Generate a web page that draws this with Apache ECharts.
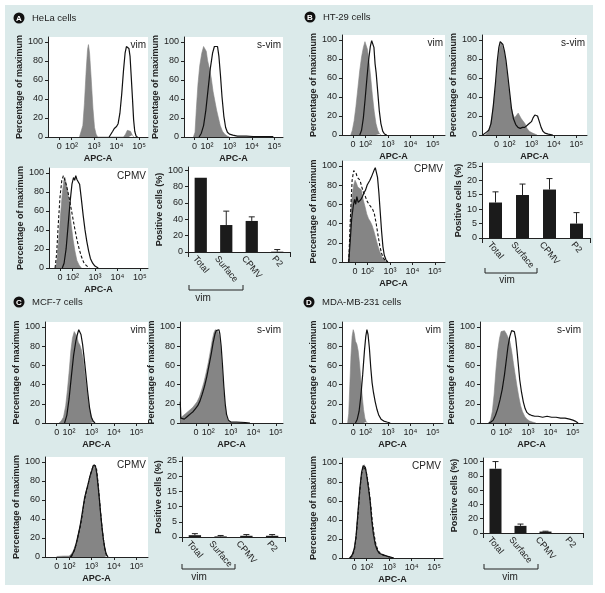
<!DOCTYPE html>
<html><head><meta charset="utf-8">
<script src="https://cdn.jsdelivr.net/npm/echarts@6/dist/echarts.min.js"></script>
<style>html,body{margin:0;padding:0;background:#fff;}#c{width:605px;height:593px;}</style>
</head><body><div id="c"></div>
<script>
// ---------------- DATA ----------------
const panelLetters = ['A', 'B', 'C', 'D'];
const panelNames = ['HeLa cells', 'HT-29 cells', 'MCF-7 cells', 'MDA-MB-231 cells'];
const histTitles = ['vim', 's-vim', 'CPMV'];
const apcTickPos = [0, 0.55, 1.55, 2.55, 3.55];          // display (biexponential) units
const apcTickLabels = ['0', '10²', '10³', '10⁴', '10⁵'];
const pctTicks = [0, 20, 40, 60, 80, 100];
const barCategories = ['Total', 'Surface', 'CPMV', 'P2'];
const groupLabel = 'vim';

// histograms: [APC-A display position, % of maximum]
const helaVimIso = [[0.9,0],[0.97,2],[1.05,12],[1.12,35],[1.2,70],[1.26,92],[1.3,97],[1.35,88],[1.42,62],[1.5,30],[1.57,10],[1.64,3],[1.71,0],[2.86,0],[2.95,3],[3.03,7],[3.09,8],[3.17,6],[3.25,2],[3.32,0]];
const helaVimStain = [[2.22,0],[2.3,2],[2.38,6],[2.45,9],[2.55,11],[2.62,14],[2.7,25],[2.78,45],[2.86,70],[2.93,88],[2.99,95],[3.05,97],[3.1,93],[3.15,85],[3.2,65],[3.26,40],[3.31,18],[3.36,6],[3.42,1],[3.48,0]];
const helaSvimIso = [[-0.05,0],[0.02,5],[0.08,30],[0.15,55],[0.23,75],[0.32,88],[0.4,95],[0.46,97],[0.52,90],[0.58,80],[0.66,72],[0.74,62],[0.82,48],[0.9,38],[0.98,28],[1.06,20],[1.14,12],[1.24,6],[1.34,3],[1.45,1],[1.55,0]];
const helaSvimStain = [[0.2,0],[0.3,4],[0.4,12],[0.5,28],[0.6,50],[0.7,72],[0.8,88],[0.88,95],[0.96,97],[1.02,95],[1.08,85],[1.15,65],[1.22,42],[1.3,22],[1.38,10],[1.46,5],[1.55,3],[1.7,2],[1.9,1],[2.3,1],[2.6,0.5],[3.0,0.5],[3.05,1.2],[3.1,0.5],[3.5,0.3]];
const helaCpmvIso = [[-0.2,0],[-0.14,8],[-0.06,30],[0.02,55],[0.1,78],[0.17,92],[0.22,95],[0.28,88],[0.35,80],[0.42,65],[0.5,45],[0.58,30],[0.66,18],[0.75,8],[0.85,3],[0.95,0]];
const helaCpmvCtrl = [[-0.22,0],[-0.15,15],[-0.08,45],[0.0,75],[0.08,92],[0.15,97],[0.2,95],[0.27,88],[0.35,80],[0.45,68],[0.55,55],[0.65,42],[0.75,30],[0.85,20],[0.95,12],[1.05,6],[1.15,3],[1.3,0]];
const helaCpmvStain = [[0.1,0],[0.18,5],[0.27,20],[0.36,45],[0.45,70],[0.53,88],[0.6,95],[0.65,92],[0.7,97],[0.75,93],[0.8,95],[0.87,88],[0.95,72],[1.03,55],[1.11,40],[1.19,28],[1.27,18],[1.35,10],[1.45,5],[1.55,2],[1.7,0]];

const ht29VimIso = [[-0.1,0],[-0.03,5],[0.05,15],[0.13,30],[0.22,50],[0.3,68],[0.38,82],[0.46,92],[0.53,98],[0.58,97],[0.64,90],[0.7,80],[0.78,62],[0.86,42],[0.94,25],[1.02,12],[1.1,5],[1.18,1],[1.25,0]];
const ht29VimStain = [[0.3,0],[0.38,5],[0.46,18],[0.54,38],[0.62,60],[0.7,80],[0.77,93],[0.83,99],[0.88,97],[0.93,92],[0.98,75],[1.03,65],[1.1,45],[1.17,25],[1.24,12],[1.32,4],[1.4,1],[1.5,0]];
const ht29SvimIso = [[-0.5,0],[-0.4,3],[-0.3,8],[-0.2,20],[-0.1,40],[0.0,62],[0.07,80],[0.14,92],[0.2,97],[0.26,95],[0.33,88],[0.4,78],[0.48,62],[0.56,45],[0.64,30],[0.72,22],[0.8,18],[0.88,20],[0.96,23],[1.03,20],[1.1,17],[1.18,18],[1.26,12],[1.35,7],[1.45,4],[1.6,2],[1.8,0]];
const ht29SvimStain = [[-0.62,0],[-0.55,2],[-0.45,3],[-0.35,5],[-0.25,12],[-0.15,30],[-0.05,55],[0.03,78],[0.1,92],[0.16,98],[0.22,100],[0.28,95],[0.35,88],[0.42,78],[0.5,62],[0.58,45],[0.66,28],[0.75,17],[0.85,11],[0.95,8],[1.05,7],[1.15,8],[1.25,8],[1.35,10],[1.45,12],[1.55,14],[1.62,18],[1.7,21],[1.76,23],[1.82,20],[1.9,14],[1.98,8],[2.06,4],[2.15,2],[2.3,1],[2.5,0]];
const ht29CpmvIso = [[-0.3,0],[-0.24,20],[-0.18,55],[-0.12,70],[-0.06,80],[0.0,85],[0.06,82],[0.12,78],[0.2,80],[0.28,75],[0.36,65],[0.44,58],[0.52,50],[0.6,45],[0.68,42],[0.76,38],[0.84,32],[0.92,25],[1.0,18],[1.08,12],[1.16,7],[1.24,3],[1.32,1],[1.4,0]];
const ht29CpmvCtrl = [[-0.28,0],[-0.2,50],[-0.13,85],[-0.06,95],[0.0,97],[0.05,92],[0.1,88],[0.16,90],[0.22,85],[0.3,78],[0.38,72],[0.46,68],[0.54,63],[0.62,60],[0.7,58],[0.78,55],[0.86,50],[0.94,40],[1.02,28],[1.1,17],[1.18,9],[1.26,4],[1.36,1],[1.45,0]];
const ht29CpmvStain = [[-0.28,0],[-0.22,20],[-0.15,45],[-0.08,58],[-0.02,65],[0.03,60],[0.08,68],[0.14,62],[0.2,60],[0.26,65],[0.33,68],[0.4,72],[0.47,75],[0.54,80],[0.6,82],[0.66,85],[0.72,88],[0.78,90],[0.84,95],[0.9,98],[0.95,96],[1.0,88],[1.06,72],[1.12,52],[1.18,32],[1.24,16],[1.3,7],[1.38,2],[1.46,0]];

const mcf7VimIso = [[0.1,0],[0.2,2],[0.3,6],[0.4,18],[0.48,35],[0.56,55],[0.63,75],[0.7,88],[0.78,95],[0.85,97],[0.9,90],[0.96,84],[1.03,81],[1.1,76],[1.18,66],[1.26,50],[1.34,35],[1.42,20],[1.5,10],[1.58,4],[1.66,1],[1.72,0]];
const mcf7VimStain = [[0.35,0],[0.45,8],[0.55,25],[0.65,48],[0.75,70],[0.85,85],[0.92,92],[0.98,97],[1.03,98],[1.08,92],[1.15,82],[1.22,68],[1.3,50],[1.38,32],[1.46,16],[1.54,6],[1.62,2],[1.7,0]];
const mcf7SvimIso = [[-0.7,3],[-0.65,6],[-0.55,8],[-0.45,10],[-0.35,12],[-0.25,14],[-0.15,16],[-0.05,19],[0.05,22],[0.15,27],[0.25,34],[0.35,42],[0.45,52],[0.55,63],[0.65,76],[0.73,87],[0.8,94],[0.86,97],[0.92,96],[0.98,95],[1.04,90],[1.1,78],[1.16,58],[1.22,38],[1.28,20],[1.34,9],[1.4,3],[1.48,1],[1.58,0]];
const mcf7SvimStain = [[-0.7,22],[-0.67,5],[-0.62,3],[-0.52,4],[-0.42,6],[-0.32,8],[-0.22,10],[-0.12,12],[-0.02,15],[0.08,18],[0.18,23],[0.28,30],[0.38,38],[0.48,48],[0.58,60],[0.68,72],[0.76,83],[0.84,92],[0.9,96],[0.96,98],[1.02,97],[1.06,93],[1.12,80],[1.18,60],[1.24,38],[1.3,20],[1.36,9],[1.44,3],[1.55,1],[1.8,1],[2.2,0.5],[2.4,0]];
const mcf7CpmvIso = [[0.0,0.5],[0.3,1],[0.55,1],[0.65,3],[0.75,7],[0.85,14],[0.95,24],[1.05,33],[1.12,42],[1.2,55],[1.28,65],[1.36,72],[1.42,78],[1.5,86],[1.57,91],[1.64,96],[1.7,97],[1.76,92],[1.82,80],[1.88,66],[1.94,50],[2.0,35],[2.06,22],[2.12,12],[2.18,5],[2.24,1],[2.3,0]];
const mcf7CpmvCtrl = [[0.65,0],[0.75,5],[0.85,12],[0.95,22],[1.05,32],[1.13,43],[1.21,56],[1.29,66],[1.37,73],[1.45,82],[1.53,89],[1.6,94],[1.66,97],[1.71,98],[1.77,93],[1.83,80],[1.89,64],[1.95,48],[2.01,32],[2.07,20],[2.13,10],[2.19,4],[2.26,0]];
const mcf7CpmvStain = [[0.6,0],[0.7,3],[0.8,8],[0.9,17],[1.0,28],[1.08,38],[1.16,50],[1.24,62],[1.32,70],[1.4,77],[1.48,85],[1.55,90],[1.62,96],[1.68,98],[1.72,96],[1.78,88],[1.84,75],[1.9,60],[1.96,44],[2.02,30],[2.08,18],[2.14,9],[2.2,3],[2.28,0]];

const mdaVimIso = [[-0.25,0],[-0.2,10],[-0.15,40],[-0.1,70],[-0.05,90],[0.0,97],[0.05,93],[0.1,85],[0.16,82],[0.22,75],[0.28,62],[0.34,45],[0.4,28],[0.46,14],[0.52,5],[0.58,1],[0.64,0]];
const mdaVimStain = [[0.1,0],[0.18,4],[0.26,12],[0.34,28],[0.42,50],[0.5,75],[0.56,90],[0.61,97],[0.66,92],[0.72,78],[0.78,58],[0.84,42],[0.9,32],[0.98,22],[1.06,14],[1.14,8],[1.24,4],[1.36,2],[1.5,1],[1.65,0]];
const mdaSvimIso = [[-0.2,0],[-0.12,3],[-0.04,12],[0.04,30],[0.12,55],[0.2,75],[0.28,88],[0.35,95],[0.42,97],[0.5,96],[0.58,93],[0.66,92],[0.74,85],[0.82,75],[0.9,62],[0.98,50],[1.06,38],[1.14,27],[1.22,18],[1.3,12],[1.4,7],[1.5,4],[1.62,2],[1.75,1],[1.9,0]];
const mdaSvimStain = [[-0.2,0],[-0.1,1],[0.0,3],[0.1,8],[0.2,15],[0.3,24],[0.4,35],[0.5,50],[0.58,65],[0.66,80],[0.74,90],[0.82,96],[0.88,98],[0.94,95],[1.0,88],[1.06,75],[1.12,60],[1.18,45],[1.26,32],[1.34,22],[1.42,15],[1.5,11],[1.6,9],[1.7,8],[1.85,7],[2.0,7],[2.2,6],[2.4,7],[2.6,6],[2.8,6],[3.0,5],[3.2,5],[3.4,4],[3.55,3],[3.65,2],[3.72,1],[3.78,0]];
const mdaCpmvIso = [[-0.25,0],[-0.15,2],[-0.05,6],[0.05,18],[0.13,38],[0.21,62],[0.29,82],[0.37,94],[0.44,98],[0.5,94],[0.57,84],[0.64,72],[0.7,62],[0.77,42],[0.84,28],[0.92,16],[1.0,10],[1.08,6],[1.18,4],[1.3,3],[1.45,2],[1.6,1],[1.75,0]];
const mdaCpmvCtrl = [[-0.2,0],[-0.1,2],[0.0,8],[0.08,22],[0.16,45],[0.24,70],[0.32,88],[0.4,96],[0.46,97],[0.52,92],[0.59,82],[0.66,70],[0.73,55],[0.8,38],[0.88,24],[0.96,14],[1.05,8],[1.15,5],[1.28,3],[1.42,2],[1.58,1],[1.72,0]];
const mdaCpmvStain = [[-0.2,0],[-0.1,3],[0.0,10],[0.08,24],[0.16,48],[0.24,72],[0.32,90],[0.39,97],[0.44,99],[0.49,95],[0.56,85],[0.63,73],[0.7,60],[0.77,40],[0.84,26],[0.92,15],[1.0,9],[1.1,5],[1.2,4],[1.32,3],[1.45,2],[1.6,1],[1.75,0]];

// bar charts: positive cells (%) mean and upper error
const helaBarMean = [91, 33, 38, 0.4];
const helaBarErr = [0, 17, 5, 2.6];
const helaBarTicks = [0, 20, 40, 60, 80, 100];
const ht29BarMean = [12.3, 14.9, 16.8, 5.0];
const ht29BarErr = [3.7, 3.8, 3.8, 3.8];
const ht29BarTicks = [0, 5, 10, 15, 20, 25];
const mcf7BarMean = [0.6, 0.2, 0.4, 0.4];
const mcf7BarErr = [0.5, 0.3, 0.4, 0.4];
const mcf7BarTicks = [0, 5, 10, 15, 20, 25];
const mdaBarMean = [90, 10, 2, 0];
const mdaBarErr = [10, 2.5, 0.5, 0];
const mdaBarTicks = [0, 20, 40, 60, 80, 100];

// ---------------- LAYOUT ----------------
const FONT = '"Liberation Sans", Arial, Helvetica, sans-serif';
const TXT = '#222';
const GRAY = '#858585';
const panels = [
  { badge: [19, 18], hists: [
      { box: [48, 37, 100, 100], x: [-0.5, 3.95], curves: [helaVimIso, helaVimStain] },
      { box: [184, 37, 99, 100], x: [-0.47, 3.93], curves: [helaSvimIso, helaSvimStain] },
      { box: [49, 168, 99, 100], x: [-0.49, 3.91], curves: [helaCpmvIso, helaCpmvCtrl, helaCpmvStain] }],
    bar: { box: [188, 167, 102, 85], yMax: 104, ticks: helaBarTicks, mean: helaBarMean, err: helaBarErr, bracket: [189, 243, 290], vim: [203, 298] } },
  { badge: [310, 17], hists: [
      { box: [342, 35, 103, 100], x: [-0.49, 4.09], curves: [ht29VimIso, ht29VimStain] },
      { box: [482, 35, 105, 100], x: [-0.65, 4.02], curves: [ht29SvimIso, ht29SvimStain] },
      { box: [342, 161, 103, 101], x: [-0.58, 4.0], curves: [ht29CpmvIso, ht29CpmvCtrl, ht29CpmvStain] }],
    bar: { box: [482, 163, 108, 75], yMax: 26, ticks: ht29BarTicks, mean: ht29BarMean, err: ht29BarErr, bracket: [485, 537, 273], vim: [507, 280] } },
  { badge: [19, 302], hists: [
      { box: [45, 322, 103, 101], x: [-0.52, 4.06], curves: [mcf7VimIso, mcf7VimStain] },
      { box: [180, 322, 103, 101], x: [-0.71, 3.87], curves: [mcf7SvimIso, mcf7SvimStain] },
      { box: [45, 457, 103, 100], x: [-0.52, 4.06], curves: [mcf7CpmvIso, mcf7CpmvCtrl, mcf7CpmvStain] }],
    bar: { box: [182, 457, 103, 80], yMax: 26.3, ticks: mcf7BarTicks, mean: mcf7BarMean, err: mcf7BarErr, bracket: [182, 235, 569], vim: [199, 577] } },
  { badge: [309, 302], hists: [
      { box: [342, 322, 101, 101], x: [-0.5, 4.0], curves: [mdaVimIso, mdaVimStain] },
      { box: [480, 322, 103, 101], x: [-0.59, 4.0], curves: [mdaSvimIso, mdaSvimStain] },
      { box: [342, 458, 101, 100], x: [-0.55, 3.94], curves: [mdaCpmvIso, mdaCpmvCtrl, mdaCpmvStain] }],
    bar: { box: [483, 458, 100, 75], yMax: 105, ticks: mdaBarTicks, mean: mdaBarMean, err: mdaBarErr, bracket: [484, 538, 569], vim: [510, 577] } }
];

// ---------------- BUILD ----------------
const grid = [], xAxis = [], yAxis = [], series = [], graphic = [];
graphic.push({ type: 'rect', shape: { x: 5, y: 5, width: 588, height: 580 }, style: { fill: '#dbeaea' }, z: -10, silent: true });

const axisLineStyle = { show: true, onZero: false, lineStyle: { color: TXT, width: 1 } };
const tickStyle = { lineStyle: { color: TXT, width: 1 } };
const labelStyle = { fontSize: 9, color: TXT, fontFamily: FONT };
const nameStyle = { fontSize: 9, fontWeight: 'bold', color: TXT, fontFamily: FONT };

function errRender(params, api) {
  const e = api.value(2);
  if (!(e > 0)) return null;
  const i = api.value(0), m = api.value(1);
  const p0 = api.coord([i, m]), p1 = api.coord([i, m + e]);
  const c = 3;
  return { type: 'group', children: [
    { type: 'line', shape: { x1: p0[0], y1: p0[1], x2: p1[0], y2: p1[1] }, style: { stroke: '#222', lineWidth: 1 } },
    { type: 'line', shape: { x1: p1[0] - c, y1: p1[1], x2: p1[0] + c, y2: p1[1] }, style: { stroke: '#222', lineWidth: 1 } }
  ] };
}

const barGrids = [];
let g = 0;
panels.forEach((p, pi) => {
  graphic.push({ type: 'circle', shape: { cx: p.badge[0], cy: p.badge[1], r: 5.5 }, style: { fill: '#111' }, z: 20 });
  graphic.push({ type: 'text', x: p.badge[0], y: p.badge[1] + 0.5, style: { text: panelLetters[pi], fill: '#fff', fontSize: 8, fontWeight: 'bold', fontFamily: FONT, align: 'center', verticalAlign: 'middle' }, z: 21 });
  graphic.push({ type: 'text', x: p.badge[0] + 13, y: p.badge[1], style: { text: panelNames[pi], fill: TXT, fontSize: 9.5, fontFamily: FONT, align: 'left', verticalAlign: 'middle' }, z: 21 });

  p.hists.forEach((h, hi) => {
    const b = h.box;
    grid.push({ left: b[0], top: b[1], width: b[2], height: b[3], show: true, backgroundColor: '#fff', borderWidth: 0 });
    xAxis.push({ gridIndex: g, type: 'value', min: h.x[0], max: h.x[1],
      axisLine: axisLineStyle, axisTick: Object.assign({ show: true, length: 3, customValues: apcTickPos }, tickStyle),
      axisLabel: Object.assign({ customValues: apcTickPos, margin: 5,
        formatter: v => { const k = apcTickPos.findIndex(q => Math.abs(q - v) < 1e-6); return k >= 0 ? apcTickLabels[k] : ''; } }, labelStyle),
      splitLine: { show: false }, name: 'APC-A', nameLocation: 'middle', nameGap: 17, nameTextStyle: nameStyle });
    yAxis.push({ gridIndex: g, type: 'value', min: 0, max: 105,
      axisLine: axisLineStyle, axisTick: Object.assign({ show: true, length: 3, customValues: pctTicks }, tickStyle),
      axisLabel: Object.assign({ customValues: pctTicks, margin: 5 }, labelStyle),
      splitLine: { show: false }, name: 'Percentage of maximum', nameLocation: 'middle', nameGap: 20, nameTextStyle: nameStyle });
    const cv = h.curves;
    series.push({ type: 'line', xAxisIndex: g, yAxisIndex: g, data: cv[0], symbol: 'none', z: 1,
      lineStyle: { color: GRAY, width: 0.6 }, areaStyle: { color: GRAY, opacity: 1 } });
    if (cv.length === 3) {
      series.push({ type: 'line', xAxisIndex: g, yAxisIndex: g, data: cv[1], symbol: 'none', z: 2,
        lineStyle: { color: '#111', width: 1.1, type: [3, 2] } });
    }
    series.push({ type: 'line', xAxisIndex: g, yAxisIndex: g, data: cv[cv.length - 1], symbol: 'none', z: 3,
      lineStyle: { color: '#111', width: 1.2 } });
    graphic.push({ type: 'text', x: b[0] + b[2] - 2, y: b[1] + 8, style: { text: histTitles[hi], fill: TXT, fontSize: 10, fontFamily: FONT, align: 'right', verticalAlign: 'middle' }, z: 30 });
    g++;
  });

  const bp = p.bar, b = bp.box;
  grid.push({ left: b[0], top: b[1], width: b[2], height: b[3], show: true, backgroundColor: '#fff', borderWidth: 0 });
  xAxis.push({ gridIndex: g, type: 'category', data: barCategories,
    axisLine: axisLineStyle, axisTick: Object.assign({ show: true, length: 5, interval: (i) => i === 2 }, tickStyle),
    axisLabel: { show: false }, splitLine: { show: false } });
  yAxis.push({ gridIndex: g, type: 'value', min: 0, max: bp.yMax,
    axisLine: axisLineStyle, axisTick: Object.assign({ show: true, length: 3, customValues: bp.ticks }, tickStyle),
    axisLabel: Object.assign({ customValues: bp.ticks, margin: 5 }, labelStyle),
    splitLine: { show: false }, name: 'Positive cells (%)', nameLocation: 'middle', nameGap: 18, nameTextStyle: nameStyle });
  series.push({ type: 'bar', xAxisIndex: g, yAxisIndex: g, data: bp.mean, barWidth: '48%', itemStyle: { color: '#1b1b1b' }, z: 2 });
  series.push({ type: 'custom', xAxisIndex: g, yAxisIndex: g, data: bp.mean.map((m, i) => [i, m, bp.err[i]]), renderItem: errRender, z: 3 });
  const br = bp.bracket;
  graphic.push({ type: 'polyline', shape: { points: [[br[0], br[2] - 5], [br[0], br[2]], [br[1], br[2]], [br[1], br[2] - 5]] }, style: { stroke: TXT, lineWidth: 1, fill: null }, z: 30 });
  graphic.push({ type: 'text', x: bp.vim[0], y: bp.vim[1], style: { text: groupLabel, fill: TXT, fontSize: 10, fontFamily: FONT, align: 'center', verticalAlign: 'middle' }, z: 30 });
  barGrids.push(g);
  g++;
});

const chart = echarts.init(document.getElementById('c'), null, { renderer: 'canvas' });
chart.setOption({ animation: false, textStyle: { fontFamily: FONT }, grid, xAxis, yAxis, series });

// rotated category labels, anchored through the axis scale
const ctx = document.createElement('canvas').getContext('2d');
const LAB = 9, TH = 50 * Math.PI / 180;
ctx.font = LAB + 'px ' + FONT;
barGrids.forEach(gi => {
  barCategories.forEach((c, i) => {
    const pt = chart.convertToPixel({ gridIndex: gi }, [i, 0]);
    const w = ctx.measureText(c).width;
    const ext = w * Math.sin(TH) + 7 * Math.cos(TH);
    graphic.push({ type: 'text', x: pt[0], y: pt[1] + 3 + ext / 2, rotation: -TH,
      style: { text: c, fill: TXT, fontSize: LAB, fontFamily: FONT, align: 'center', verticalAlign: 'middle' }, z: 30 });
  });
});
chart.setOption({ graphic: graphic });
</script></body></html>
